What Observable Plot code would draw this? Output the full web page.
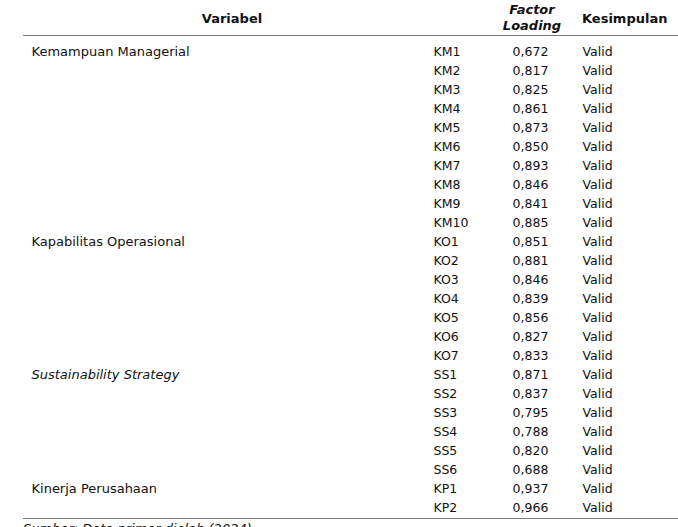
<!DOCTYPE html>
<html>
<head>
<meta charset="utf-8">
<script src="https://cdn.jsdelivr.net/npm/d3@7"></script>
<script src="https://cdn.jsdelivr.net/npm/@observablehq/plot@0.6"></script>
<style>
  html, body { margin: 0; padding: 0; background: #fff; }
  body { width: 678px; font-family: "DejaVu Sans", Verdana, sans-serif; color: #111; overflow: hidden; }
  #wrap { position: relative; width: 678px; height: 527px; overflow: hidden; }
  #head { position: absolute; left: 23px; top: 0; width: 655px; height: 35px; border-bottom: 1.2px solid #7a7a7a; }
  .h { position: absolute; font-weight: bold; font-size: 13px; line-height: 16px; white-space: nowrap; }
  #chart { position: absolute; left: 0; top: 37px; width: 678px; height: 482px; }
  #bottomline { position: absolute; left: 23px; top: 518px; width: 655px; height: 0; border-bottom: 1.2px solid #7a7a7a; }
  #cap { position: absolute; left: 23px; top: 521px; font-style: italic; font-size: 13px; white-space: nowrap; }
</style>
</head>
<body>
<div id="wrap">
  <div id="head"></div>
  <div id="chart"></div>
  <div id="bottomline"></div>
  <div id="cap"></div>
</div>
<script>
// ---- data ----
const headers = ["Variabel", "Factor Loading", "Kesimpulan"];
const variables = ["Kemampuan Managerial", "Kapabilitas Operasional", "Sustainability Strategy", "Kinerja Perusahaan"];
const italicVariables = ["Sustainability Strategy"];
const indicatorsKM = ["KM1","KM2","KM3","KM4","KM5","KM6","KM7","KM8","KM9","KM10"];
const indicatorsKO = ["KO1","KO2","KO3","KO4","KO5","KO6","KO7"];
const indicatorsSS = ["SS1","SS2","SS3","SS4","SS5","SS6"];
const indicatorsKP = ["KP1","KP2"];
const loadingsKM = [0.672, 0.817, 0.825, 0.861, 0.873, 0.850, 0.893, 0.846, 0.841, 0.885];
const loadingsKO = [0.851, 0.881, 0.846, 0.839, 0.856, 0.827, 0.833];
const loadingsSS = [0.871, 0.837, 0.795, 0.788, 0.820, 0.688];
const loadingsKP = [0.937, 0.966];
const conclusions = ["Valid"];
const source = "Sumber: Data primer diolah (2024)";

// ---- build table ----
const groups = [
  {name: variables[0], codes: indicatorsKM, vals: loadingsKM},
  {name: variables[1], codes: indicatorsKO, vals: loadingsKO},
  {name: variables[2], codes: indicatorsSS, vals: loadingsSS},
  {name: variables[3], codes: indicatorsKP, vals: loadingsKP}
];
const rows = groups.flatMap(g => g.codes.map((c, i) => ({variable: g.name, code: c, value: g.vals[i], concl: conclusions[0]})));
const firstRows = groups.map(g => ({name: g.name, code: g.codes[0], italic: italicVariables.includes(g.name)}));
const fmt = v => v.toFixed(3).replace(".", ",");

// layout constants (pixels)
const X_VAR = 31, X_CODE = 433, X_VAL = 530, X_CONC = 582;

// header (HTML, above the svg)
const head = document.getElementById("head");
head.innerHTML =
  `<div class="h" style="left:${232-23}px;top:11px;transform:translateX(-50%)">${headers[0]}</div>` +
  `<div class="h" style="left:${532-23}px;top:2px;transform:translateX(-50%);font-style:italic;text-align:center">${headers[1].split(" ").join("<br>")}</div>` +
  `<div class="h" style="left:${X_CONC-23}px;top:11px">${headers[2]}</div>`;

const font = {fontSize: 12.5, fill: "#111"};
const plot = Plot.plot({
  width: 678,
  height: 482,
  margin: 0,
  style: {fontFamily: "DejaVu Sans, Verdana, sans-serif", fontSize: "12.5px", background: "transparent"},
  x: {type: "linear", domain: [0, 678], range: [0, 678], axis: null},
  y: {type: "point", domain: rows.map(d => d.code), range: [8.5, 474.5], padding: 0, axis: null},
  marks: [
    Plot.text(firstRows.filter(d => !d.italic), {x: X_VAR, y: "code", text: "name", textAnchor: "start", ...font, fontSize: 13}),
    Plot.text(firstRows.filter(d => d.italic), {x: X_VAR, y: "code", text: "name", textAnchor: "start", fontStyle: "italic", ...font, fontSize: 13}),
    Plot.text(rows, {x: X_CODE, y: "code", text: "code", textAnchor: "start", ...font}),
    Plot.text(rows, {x: X_VAL, y: "code", text: d => fmt(d.value), textAnchor: "middle", ...font}),
    Plot.text(rows, {x: X_CONC, y: "code", text: "concl", textAnchor: "start", ...font})
  ]
});
document.getElementById("chart").appendChild(plot);
document.getElementById("cap").textContent = source;
</script>
</body>
</html>
